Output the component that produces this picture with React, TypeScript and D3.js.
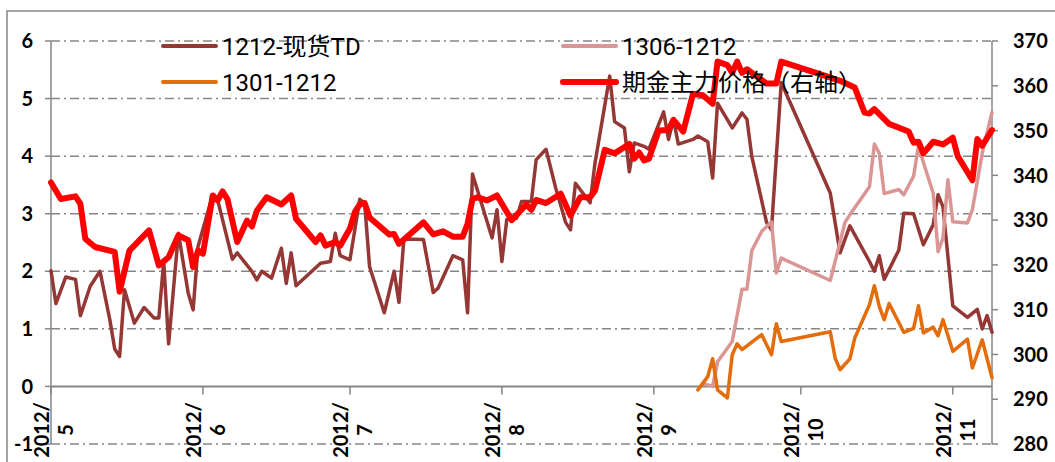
import React, { useEffect, useRef } from 'react';
import * as d3 from 'd3';

// axis ticks
const leftTicks = [-1, 0, 1, 2, 3, 4, 5, 6];
const rightTicks = [280, 290, 300, 310, 320, 330, 340, 350, 360, 370];
const monthTicks = ['2012-05-01', '2012-06-01', '2012-07-01', '2012-08-01', '2012-09-01', '2012-10-01', '2012-11-01'];
const axisStart = '2012-05-01';
const axisEnd = '2012-11-09';

const seriesNames = ['1212-现货TD', '1306-1212', '1301-1212', '期金主力价格（右轴）'];

// 1212-现货TD (left axis)
const tdDates = [
  '2012-05-01', '2012-05-02', '2012-05-04', '2012-05-06', '2012-05-07', '2012-05-09', '2012-05-11', '2012-05-13',
  '2012-05-14', '2012-05-15', '2012-05-16', '2012-05-18', '2012-05-20', '2012-05-22', '2012-05-23', '2012-05-24',
  '2012-05-25', '2012-05-27', '2012-05-29', '2012-05-30', '2012-05-31', '2012-06-03', '2012-06-04', '2012-06-07',
  '2012-06-08', '2012-06-11', '2012-06-12', '2012-06-13', '2012-06-15', '2012-06-17', '2012-06-18', '2012-06-19',
  '2012-06-20', '2012-06-25', '2012-06-27', '2012-06-28', '2012-06-29', '2012-07-01', '2012-07-03', '2012-07-04',
  '2012-07-05', '2012-07-08', '2012-07-10', '2012-07-11', '2012-07-12', '2012-07-16', '2012-07-18', '2012-07-19',
  '2012-07-22', '2012-07-24', '2012-07-25', '2012-07-26', '2012-07-30', '2012-07-31', '2012-08-01', '2012-08-02',
  '2012-08-04', '2012-08-05', '2012-08-07', '2012-08-08', '2012-08-10', '2012-08-12', '2012-08-14', '2012-08-15',
  '2012-08-16', '2012-08-19', '2012-08-20', '2012-08-23', '2012-08-24', '2012-08-26', '2012-08-27', '2012-08-28',
  '2012-08-30', '2012-08-31', '2012-09-03', '2012-09-04', '2012-09-05', '2012-09-06', '2012-09-09', '2012-09-10',
  '2012-09-12', '2012-09-13', '2012-09-14', '2012-09-17', '2012-09-19', '2012-09-20', '2012-09-21', '2012-09-24',
  '2012-09-25', '2012-09-27', '2012-10-07', '2012-10-09', '2012-10-11', '2012-10-15', '2012-10-16', '2012-10-17',
  '2012-10-18', '2012-10-21', '2012-10-22', '2012-10-24', '2012-10-26', '2012-10-28', '2012-10-29', '2012-10-30',
  '2012-11-01', '2012-11-04', '2012-11-06', '2012-11-07', '2012-11-08', '2012-11-09',
];
const tdValues = [
  2.01, 1.44, 1.9, 1.86, 1.23, 1.74, 2.0, 1.16,
  0.65, 0.52, 1.68, 1.1, 1.37, 1.19, 1.19, 2.17,
  0.74, 2.66, 1.62, 1.33, 2.43, 3.33, 3.24, 2.21,
  2.32, 2.0, 1.85, 2.0, 1.88, 2.4, 1.79, 2.32,
  1.75, 2.14, 2.17, 2.66, 2.27, 2.2, 3.25, 3.18,
  2.08, 1.28, 2.0, 1.46, 2.56, 2.55, 1.63, 1.71,
  2.27, 2.2, 1.28, 3.69, 2.58, 3.07, 2.17, 2.9,
  2.92, 3.21, 3.21, 3.94, 4.12, 3.44, 2.85, 2.72,
  3.53, 3.19, 3.88, 5.39, 4.6, 4.49, 3.73, 4.23,
  4.17, 4.12, 4.77, 4.29, 4.64, 4.21, 4.29, 4.35,
  4.25, 3.62, 4.92, 4.49, 4.75, 4.64, 3.99, 2.85,
  2.72, 5.28, 3.36, 2.32, 2.79, 2.17, 2.0, 2.27,
  1.86, 2.37, 3.01, 3.0, 2.46, 2.81, 3.33, 3.12,
  1.4, 1.2, 1.34, 1.0, 1.23, 0.94,
];

// 1306-1212 (left axis)
const s1306Dates = [
  '2012-09-11', '2012-09-13', '2012-09-14', '2012-09-17', '2012-09-19', '2012-09-20', '2012-09-21', '2012-09-23',
  '2012-09-25', '2012-09-26', '2012-09-27', '2012-10-07', '2012-10-10', '2012-10-11', '2012-10-15', '2012-10-16',
  '2012-10-17', '2012-10-18', '2012-10-21', '2012-10-22', '2012-10-24', '2012-10-25', '2012-10-26', '2012-10-28',
  '2012-10-29', '2012-10-30', '2012-10-31', '2012-11-01', '2012-11-04', '2012-11-05', '2012-11-07', '2012-11-09',
];
const s1306Values = [
  0.05, 0.0, 0.43, 0.78, 1.69, 1.69, 2.36, 2.69,
  2.86, 1.97, 2.23, 1.84, 2.85, 2.98, 3.47, 4.21,
  4.05, 3.35, 3.42, 3.33, 3.65, 4.18, 3.89, 3.36,
  2.34, 2.58, 3.59, 2.86, 2.84, 3.07, 4.05, 4.76,
];

// 1301-1212 (left axis)
const s1301Dates = [
  '2012-09-10', '2012-09-12', '2012-09-13', '2012-09-14', '2012-09-16', '2012-09-17', '2012-09-18', '2012-09-19',
  '2012-09-23', '2012-09-25', '2012-09-26', '2012-09-27', '2012-10-07', '2012-10-08', '2012-10-09', '2012-10-11',
  '2012-10-12', '2012-10-15', '2012-10-16', '2012-10-17', '2012-10-18', '2012-10-19', '2012-10-22', '2012-10-24',
  '2012-10-25', '2012-10-26', '2012-10-28', '2012-10-29', '2012-10-30', '2012-11-01', '2012-11-04', '2012-11-05',
  '2012-11-07', '2012-11-09',
];
const s1301Values = [
  -0.06, 0.17, 0.48, -0.06, -0.2, 0.55, 0.74, 0.64,
  0.9, 0.55, 1.09, 0.78, 0.95, 0.49, 0.29, 0.48,
  0.84, 1.42, 1.75, 1.39, 1.16, 1.44, 0.94, 1.01,
  1.4, 0.93, 1.03, 0.88, 1.16, 0.61, 0.82, 0.32,
  0.81, 0.15,
];

// 期金主力价格 (right axis)
const mainDates = [
  '2012-05-01', '2012-05-03', '2012-05-06', '2012-05-07', '2012-05-08', '2012-05-10', '2012-05-14', '2012-05-15',
  '2012-05-17', '2012-05-21', '2012-05-23', '2012-05-25', '2012-05-27', '2012-05-29', '2012-05-30', '2012-05-31',
  '2012-06-01', '2012-06-03', '2012-06-04', '2012-06-05', '2012-06-06', '2012-06-08', '2012-06-10', '2012-06-11',
  '2012-06-12', '2012-06-14', '2012-06-17', '2012-06-19', '2012-06-20', '2012-06-24', '2012-06-25', '2012-06-26',
  '2012-06-28', '2012-06-29', '2012-07-01', '2012-07-02', '2012-07-03', '2012-07-04', '2012-07-05', '2012-07-09',
  '2012-07-10', '2012-07-11', '2012-07-13', '2012-07-16', '2012-07-18', '2012-07-20', '2012-07-22', '2012-07-24',
  '2012-07-25', '2012-07-26', '2012-07-27', '2012-07-29', '2012-07-31', '2012-08-03', '2012-08-06', '2012-08-07',
  '2012-08-08', '2012-08-10', '2012-08-13', '2012-08-15', '2012-08-17', '2012-08-19', '2012-08-20', '2012-08-22',
  '2012-08-24', '2012-08-27', '2012-08-28', '2012-08-29', '2012-08-30', '2012-08-31', '2012-09-02', '2012-09-04',
  '2012-09-05', '2012-09-07', '2012-09-09', '2012-09-11', '2012-09-13', '2012-09-14', '2012-09-16', '2012-09-17',
  '2012-09-18', '2012-09-19', '2012-09-20', '2012-09-24', '2012-09-26', '2012-09-27', '2012-10-06', '2012-10-09',
  '2012-10-12', '2012-10-14', '2012-10-15', '2012-10-16', '2012-10-19', '2012-10-23', '2012-10-24', '2012-10-25',
  '2012-10-26', '2012-10-28', '2012-10-30', '2012-11-01', '2012-11-02', '2012-11-05', '2012-11-06', '2012-11-07',
  '2012-11-09',
];
const mainValues = [
  338.4, 334.7, 335.3, 333.6, 325.8, 324.0, 322.9, 314.0,
  323.2, 327.7, 319.9, 321.7, 326.6, 325.5, 319.5, 323.2,
  322.5, 335.5, 334.4, 336.4, 334.7, 325.1, 329.9, 328.6,
  332.1, 335.1, 333.5, 335.5, 330.3, 325.1, 326.6, 324.3,
  325.1, 324.3, 328.1, 331.8, 333.5, 333.8, 330.6, 326.8,
  326.9, 324.7, 326.6, 329.5, 326.8, 327.5, 326.3, 326.3,
  329.2, 334.7, 335.1, 334.4, 335.5, 330.0, 333.5, 332.3,
  334.5, 333.8, 335.9, 331.0, 335.1, 335.1, 336.6, 345.7,
  344.9, 347.0, 343.7, 345.1, 343.3, 343.7, 350.0, 350.1,
  352.4, 349.8, 358.2, 357.9, 356.0, 365.4, 364.6, 362.9,
  365.4, 362.9, 363.7, 360.5, 360.5, 365.4, 362.2, 361.1,
  359.6, 354.0, 353.8, 354.8, 351.5, 349.8, 347.3, 347.5,
  344.9, 347.5, 346.9, 348.4, 344.3, 338.9, 348.1, 346.6,
  350.1,
];

const colors = ['#953735', '#D99694', '#E46C0A', '#FF0000'];
const widths = [3.5, 3.5, 3.5, 6];

const W = 1055;
const H = 462;
const plotLeft = 51;
const plotRight = 992;
const plotTop = 41;
const plotBottom = 444;
const gridColor = '#868686';
const tickFont = 'Lato, "Liberation Sans", sans-serif';
const legendFont = 'Roboto, "Noto Sans CJK SC", sans-serif';
const cjkFont = '"Noto Sans CJK SC", sans-serif';

const App: React.FC = () => {
  const svgRef = useRef<SVGSVGElement | null>(null);

  useEffect(() => {
    const parse = d3.timeParse('%Y-%m-%d');
    const svg = d3.select(svgRef.current);
    svg.selectAll('*').remove();

    const x = d3.scaleTime()
      .domain([parse(axisStart) as Date, parse(axisEnd) as Date])
      .range([plotLeft, plotRight]);
    const yLeft = d3.scaleLinear().domain([-1, 6]).range([plotBottom, plotTop]);
    const yRight = d3.scaleLinear().domain([280, 370]).range([plotBottom, plotTop]);

    // chart border
    svg.append('rect')
      .attr('x', 7).attr('y', 11)
      .attr('width', 1070).attr('height', 480)
      .attr('fill', '#fff')
      .attr('stroke', gridColor)
      .attr('stroke-width', 1.5);

    // gridlines
    svg.append('g')
      .selectAll('line')
      .data(leftTicks.filter(t => t !== 0))
      .join('line')
      .attr('x1', plotLeft).attr('x2', plotRight)
      .attr('y1', d => yLeft(d)).attr('y2', d => yLeft(d))
      .attr('stroke', gridColor)
      .attr('stroke-width', 1.5)
      .attr('stroke-dasharray', '9,4,2,4');

    // left axis
    svg.append('line')
      .attr('x1', plotLeft).attr('x2', plotLeft)
      .attr('y1', plotTop).attr('y2', plotBottom)
      .attr('stroke', gridColor).attr('stroke-width', 1.5);
    svg.append('g')
      .selectAll('line')
      .data(leftTicks)
      .join('line')
      .attr('x1', plotLeft - 6).attr('x2', plotLeft)
      .attr('y1', d => yLeft(d)).attr('y2', d => yLeft(d))
      .attr('stroke', gridColor).attr('stroke-width', 1.5);
    svg.append('g')
      .selectAll('text')
      .data(leftTicks)
      .join('text')
      .attr('x', 33)
      .attr('y', d => yLeft(d))
      .attr('dy', '0.36em')
      .attr('text-anchor', 'end')
      .attr('font-family', tickFont)
      .attr('font-weight', 'bold')
      .attr('font-size', 20)
      .text(d => d);

    // right axis
    svg.append('line')
      .attr('x1', plotRight).attr('x2', plotRight)
      .attr('y1', plotTop).attr('y2', plotBottom)
      .attr('stroke', gridColor).attr('stroke-width', 1.5);
    svg.append('g')
      .selectAll('line')
      .data(rightTicks)
      .join('line')
      .attr('x1', plotRight).attr('x2', plotRight + 6)
      .attr('y1', d => yRight(d)).attr('y2', d => yRight(d))
      .attr('stroke', gridColor).attr('stroke-width', 1.5);
    svg.append('g')
      .selectAll('text')
      .data(rightTicks)
      .join('text')
      .attr('x', 1013)
      .attr('y', d => yRight(d))
      .attr('dy', '0.36em')
      .attr('font-family', tickFont)
      .attr('font-weight', 'bold')
      .attr('font-size', 20)
      .text(d => d);

    // x axis at zero
    svg.append('line')
      .attr('x1', plotLeft).attr('x2', plotRight)
      .attr('y1', yLeft(0)).attr('y2', yLeft(0))
      .attr('stroke', gridColor).attr('stroke-width', 2);
    const months = monthTicks.map(m => parse(m) as Date);
    svg.append('g')
      .selectAll('line')
      .data(months)
      .join('line')
      .attr('x1', d => x(d)).attr('x2', d => x(d))
      .attr('y1', yLeft(0)).attr('y2', yLeft(0) + 8)
      .attr('stroke', gridColor).attr('stroke-width', 1.5);
    const fmtMonth = d3.timeFormat('%-m');
    const lbl = svg.append('g')
      .selectAll('text')
      .data(months)
      .join('text')
      .attr('transform', d => `translate(${x(d)},430) rotate(-90)`)
      .attr('text-anchor', 'middle')
      .attr('font-family', tickFont)
      .attr('font-weight', 'bold')
      .attr('font-size', 20);
    lbl.append('tspan').attr('x', 0).attr('y', -2).text('2012/');
    lbl.append('tspan').attr('x', 0).attr('y', 22).text(d => fmtMonth(d));

    // series
    const series = [
      { dates: tdDates, values: tdValues, y: yLeft },
      { dates: s1306Dates, values: s1306Values, y: yLeft },
      { dates: s1301Dates, values: s1301Values, y: yLeft },
      { dates: mainDates, values: mainValues, y: yRight },
    ];
    series.forEach((s, i) => {
      const pts = s.dates.map((d, j) => [parse(d) as Date, s.values[j]] as [Date, number]);
      const line = d3.line<[Date, number]>()
        .x(p => x(p[0]))
        .y(p => s.y(p[1]));
      svg.append('path')
        .datum(pts)
        .attr('d', line)
        .attr('fill', 'none')
        .attr('stroke', colors[i])
        .attr('stroke-width', widths[i])
        .attr('stroke-linejoin', 'round')
        .attr('stroke-linecap', 'round');
    });

    // legend (two columns, row-wise order)
    const legendPos = [
      { lx: 163, ly: 46 },
      { lx: 563, ly: 46 },
      { lx: 163, ly: 82 },
      { lx: 563, ly: 82 },
    ];
    const lg = svg.append('g')
      .selectAll('g')
      .data(seriesNames)
      .join('g')
      .attr('transform', (d, i) => `translate(${legendPos[i].lx},${legendPos[i].ly})`);
    lg.append('line')
      .attr('x1', 0).attr('x2', 53)
      .attr('y1', 0).attr('y2', 0)
      .attr('stroke', (d, i) => colors[i])
      .attr('stroke-width', (d, i) => (i === 3 ? 6 : 4))
      .attr('stroke-linecap', 'round');
    lg.append('text')
      .attr('x', 59)
      .attr('y', 0)
      .attr('dy', '0.36em')
      .attr('font-family', (d, i) => (i === 3 ? cjkFont : legendFont))
      .attr('font-size', 24)
      .attr('fill', '#000')
      .text(d => d);
  }, []);

  return (
    <svg
      ref={svgRef}
      width={W}
      height={H}
      style={{ position: 'absolute', left: 0, top: 0, background: '#fff' }}
    />
  );
};

export default App;
